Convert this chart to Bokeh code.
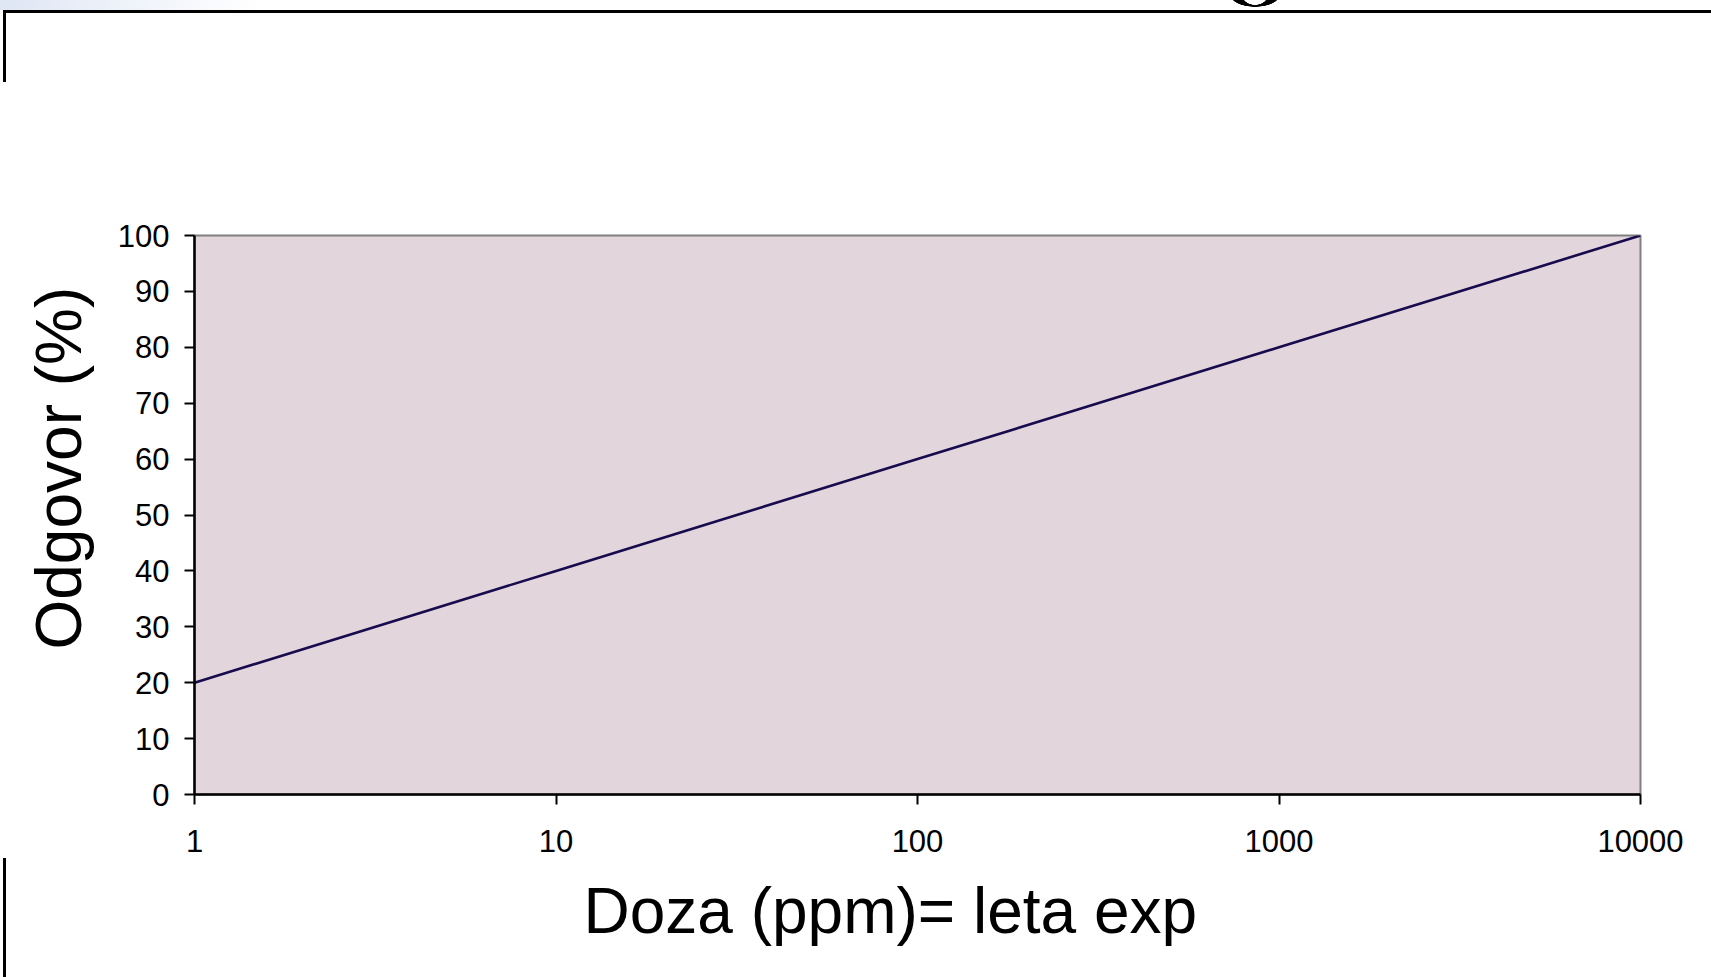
from bokeh.plotting import figure
from bokeh.models import Range1d, FixedTicker, Title
from bokeh.embed import file_html
from bokeh.resources import INLINE

# data
dose_ppm = [1, 10, 100, 1000, 10000]
response_pct = [20, 40, 60, 80, 100]
x_ticks = [1, 10, 100, 1000, 10000]
x_tick_labels = ["1", "10", "100", "1000", "10000"]
y_ticks = [0, 10, 20, 30, 40, 50, 60, 70, 80, 90, 100]
x_title = "Doza (ppm)= leta exp"
y_title = "Odgovor (%)"

W, H = 1711, 977
p = figure(width=W, height=H, x_axis_type="log",
           x_range=Range1d(1, 10000), y_range=Range1d(0, 100),
           output_backend="svg", toolbar_location=None,
           min_border_left=194, min_border_right=71,
           min_border_top=235, min_border_bottom=183,
           background_fill_color="#E2D5DB",
           border_fill_color="white", border_fill_alpha=0,
           outline_line_color="#808080", outline_line_width=2)

# slide decorations (page background behind the transparent border area)
p.styles = {
    "background": (
        "linear-gradient(#000,#000) 3px 10px / 1708px 3px no-repeat,"
        "linear-gradient(#000,#000) 3px 10px / 3px 72px no-repeat,"
        "linear-gradient(#000,#000) 3px 858px / 3px 119px no-repeat,"
        "radial-gradient(ellipse 13px 10px at 30px -5px, #fff 96%, transparent 100%) 1225px 0px / 60px 10px no-repeat,"
        "radial-gradient(ellipse 25px 12px at 30px -5px, #000 96%, transparent 100%) 1225px 0px / 60px 10px no-repeat,"
        "linear-gradient(to right, #dfe6f4, #ffffff) 0px 0px / 260px 10px no-repeat,"
        "#ffffff"
    )
}

p.line(dose_ppm, response_pct, line_color="#170B4E", line_width=2.6)
p.xgrid.visible = False
p.ygrid.visible = False

font = "Liberation Sans"
for ax in (p.xaxis[0], p.yaxis[0]):
    ax.axis_line_color = "black"
    ax.axis_line_width = 2.5
    ax.major_tick_line_color = "black"
    ax.major_tick_line_width = 2
    ax.major_tick_in = 0
    ax.major_tick_out = 10
    ax.minor_tick_line_color = None
    ax.major_label_text_font = font
    ax.major_label_text_font_size = "31px"
    ax.major_label_text_color = "black"

p.xaxis.ticker = FixedTicker(ticks=x_ticks)
p.xaxis.major_label_overrides = {float(t): s for t, s in zip(x_ticks, x_tick_labels)}
p.xaxis.major_label_standoff = 25

p.yaxis.ticker = FixedTicker(ticks=y_ticks)
p.yaxis.major_label_standoff = 15

# axis titles, placed as in the reference (slightly off-centre)
p.add_layout(Title(text=x_title, align="left", offset=389, standoff=36,
                   text_font=font, text_font_size="64px", text_font_style="normal",
                   text_color="black"), "below")
p.add_layout(Title(text=y_title, align="left", offset=145, standoff=40,
                   text_font=font, text_font_size="64px", text_font_style="normal",
                   text_color="black"), "left")

open("out.html", "w").write(file_html(p, INLINE))
